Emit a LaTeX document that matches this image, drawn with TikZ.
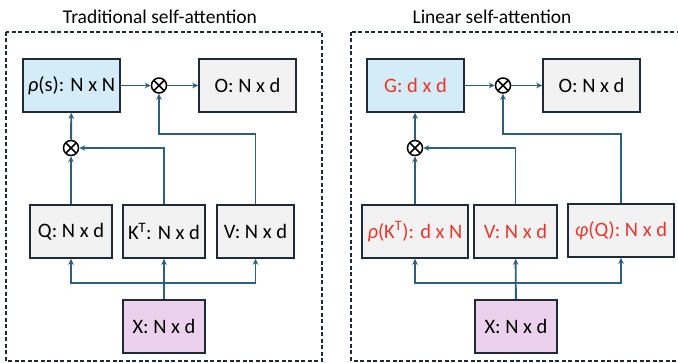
\documentclass[tikz,border=0pt]{standalone}
\usepackage{fontspec}
\setmainfont{Carlito}
\usetikzlibrary{arrows.meta}
\definecolor{edge}{RGB}{30,42,56}
\definecolor{flow}{RGB}{46,94,128}
\definecolor{boxgray}{RGB}{242,242,242}
\definecolor{boxblue}{RGB}{212,236,247}
\definecolor{boxpink}{RGB}{236,209,236}
\definecolor{hl}{RGB}{232,55,44}
\tikzset{
  blk/.style={draw=edge, line width=1.6pt, fill=boxgray, inner sep=0pt, minimum height=53pt, font=\fontsize{20.5}{22}\selectfont},
  mul/.style={circle, draw=black, line width=1.5pt, minimum size=15pt, inner sep=0pt,
    path picture={\draw[black, line width=1.5pt] (path picture bounding box.center) +(-5.3pt,-5.3pt) -- +(5.3pt,5.3pt)
      +(-5.3pt,5.3pt) -- +(5.3pt,-5.3pt);}},
  lnk/.style={flow, line width=1.9pt, -{Stealth[length=6pt,width=5.5pt]}},
  ttl/.style={font=\fontsize{19.5}{21}\selectfont},
  panel/.style={draw=edge, line width=1.3pt, dash pattern=on 4pt off 2.5pt}
}
\begin{document}
\begin{tikzpicture}[x=1pt,y=-1pt]
\useasboundingbox (0,0) rectangle (678,363);
% traditional self-attention
\node[ttl] (tradt) at (160,17) {Traditional self-attention};
\draw[panel] (6,32) rectangle (322,361);
\node[blk, fill=boxblue, minimum width=97pt] (rho) at (71.5,85.5) {\textit{ρ}(s): N x N};
\node[mul] (mtop) at (159,85.5) {};
\node[blk, minimum width=97pt] (out) at (247.5,85.5) {O: N x d};
\node[mul] (mlow) at (71,148) {};
\node[blk, minimum width=82pt] (q) at (71,231.5) {Q: N x d};
\node[blk, minimum width=82pt] (k) at (164,231.5) {K\textsuperscript{T}: N x d};
\node[blk, minimum width=77pt] (v) at (255.5,231.5) {V: N x d};
\node[blk, fill=boxpink, minimum width=82pt] (x) at (164,326.5) {X: N x d};
\coordinate (xsplit) at (164,283);
\coordinate (vturn) at (255.5,134);
\draw[lnk] (rho) -- (mtop);
\draw[lnk] (mtop) -- (out);
\draw[lnk] (q) -- (mlow);
\draw[lnk] (mlow) -- (rho);
\draw[lnk] (k.north) |- (mlow.east);
\draw[lnk] (v.north) -- (vturn) -| (mtop.south);
\draw[lnk] (x) -- (k);
\draw[lnk] (xsplit) -| (q.south);
\draw[lnk] (xsplit) -| (v.south);
% linear self-attention
\node[ttl] (lint) at (492,17) {Linear self-attention};
\draw[panel] (351,32) rectangle (684,361);
\node[blk, fill=boxblue, minimum width=97pt, text=hl] (g) at (415.5,85.5) {G: d x d};
\node[mul] (mtop2) at (503,85.5) {};
\node[blk, minimum width=97pt] (out2) at (591.5,85.5) {O: N x d};
\node[mul] (mlow2) at (415,148) {};
\node[blk, minimum width=106pt, text=hl] (rk) at (415,231.5) {\textit{ρ}(K\textsuperscript{T}): d x N};
\node[blk, minimum width=83pt, text=hl] (v2) at (515.5,231.5) {V: N x d};
\node[blk, minimum width=106pt, text=hl] (phq) at (621,230.5) {\textit{φ}(Q): N x d};
\node[blk, fill=boxpink, minimum width=82pt] (x2) at (516,326.5) {X: N x d};
\coordinate (xsplit2) at (516,283);
\coordinate (pturn) at (621,134);
\draw[lnk] (g) -- (mtop2);
\draw[lnk] (mtop2) -- (out2);
\draw[lnk] (rk) -- (mlow2);
\draw[lnk] (mlow2) -- (g.south -| mlow2);
\draw[lnk] (v2.north) |- (mlow2.east);
\draw[lnk] (phq.north) -- (pturn) -| (mtop2.south);
\draw[lnk] (x2) -- (v2);
\draw[lnk] (xsplit2) -| (rk.south);
\draw[lnk] (xsplit2) -| (phq.south);
\end{tikzpicture}
\end{document}
